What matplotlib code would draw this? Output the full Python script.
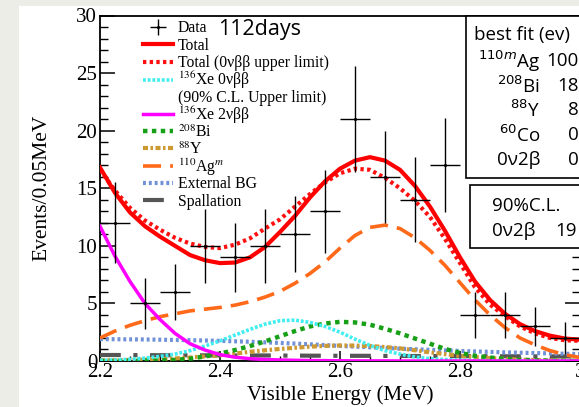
import numpy as np
import matplotlib
matplotlib.use("Agg")
import matplotlib.pyplot as plt
from matplotlib.patches import Rectangle
from matplotlib.lines import Line2D
from matplotlib.legend import Legend
from matplotlib.ticker import MultipleLocator, FuncFormatter

# ---- measured spectrum (0.05 MeV bins) ----
bin_centers = [2.225, 2.275, 2.325, 2.375, 2.425, 2.475, 2.525, 2.575,
               2.625, 2.675, 2.725, 2.775, 2.825, 2.875, 2.925, 2.975]
counts = [12, 5, 6, 10, 9, 10, 11, 13, 21, 16, 14, 17, 4, 4, 3, 2]
count_err = [3.5, 2.2, 2.4, 3.2, 3.0, 3.2, 3.3, 3.6, 4.6, 4.0, 3.7, 4.1, 2.0, 2.0, 1.7, 1.4]
bin_half_width = 0.025

# ---- fitted model curves ----
energy = [2.2, 2.225, 2.25, 2.275, 2.3, 2.325, 2.35, 2.375, 2.4, 2.425, 2.45,
          2.475, 2.5, 2.525, 2.55, 2.575, 2.6, 2.625, 2.65, 2.675, 2.7, 2.725,
          2.75, 2.775, 2.8, 2.825, 2.85, 2.875, 2.9, 2.925, 2.95, 2.975, 3.0]
total = [16.8, 14.6, 12.9, 11.7, 10.8, 10.0, 9.2, 8.75, 8.5, 8.55, 9.0,
         9.9, 11.2, 12.6, 14.2, 15.6, 16.7, 17.4, 17.7, 17.4, 16.6, 15.2,
         13.4, 11.3, 9.0, 6.9, 5.3, 4.1, 3.2, 2.6, 2.2, 1.95, 1.85]
total_ul = [16.6, 14.8, 13.3, 12.2, 11.4, 10.7, 10.2, 9.9, 9.8, 10.1, 10.65,
            11.5, 12.3, 13.4, 14.5, 15.5, 16.3, 16.7, 16.6, 15.9, 15.0, 13.9,
            12.5, 10.6, 8.5, 6.4, 4.9, 3.9, 3.0, 2.4, 2.0, 1.8, 1.75]
xe136_0v = [0.05, 0.08, 0.15, 0.25, 0.4, 0.6, 0.9, 1.3, 1.75, 2.25, 2.75,
            3.2, 3.5, 3.55, 3.35, 3.0, 2.5, 1.9, 1.35, 0.9, 0.6, 0.35,
            0.2, 0.12, 0.07, 0.04, 0.02, 0.01, 0.01, 0.0, 0.0, 0.0, 0.0]
xe136_2v = [11.7, 9.1, 6.9, 5.0, 3.6, 2.4, 1.5, 0.95, 0.55, 0.33, 0.2,
            0.13, 0.09, 0.06, 0.04, 0.03, 0.02, 0.01, 0.01, 0.01, 0.0, 0.0,
            0.0, 0.0, 0.0, 0.0, 0.0, 0.0, 0.0, 0.0, 0.0, 0.0, 0.0]
bi208 = [0.0, 0.01, 0.01, 0.02, 0.05, 0.1, 0.2, 0.4, 0.65, 0.95, 1.3,
         1.7, 2.15, 2.6, 3.0, 3.25, 3.4, 3.35, 3.15, 2.8, 2.4, 1.95,
         1.5, 1.05, 0.7, 0.45, 0.3, 0.18, 0.1, 0.06, 0.03, 0.02, 0.01]
y88 = [0.05, 0.07, 0.09, 0.12, 0.16, 0.22, 0.3, 0.4, 0.5, 0.64, 0.8,
       0.93, 1.05, 1.15, 1.25, 1.31, 1.35, 1.34, 1.3, 1.21, 1.1, 0.93,
       0.75, 0.6, 0.45, 0.34, 0.25, 0.18, 0.12, 0.08, 0.05, 0.03, 0.02]
ag110m = [2.0, 2.6, 3.1, 3.5, 3.85, 4.1, 4.35, 4.5, 4.65, 4.85, 5.15,
          5.55, 6.05, 6.75, 7.6, 8.6, 9.8, 10.9, 11.6, 11.8, 11.5, 10.7,
          9.6, 8.3, 6.8, 5.3, 4.0, 2.9, 2.0, 1.4, 0.9, 0.55, 0.3]
external_bg = [1.9, 1.89, 1.88, 1.87, 1.85, 1.83, 1.81, 1.78, 1.75, 1.71, 1.67,
               1.62, 1.57, 1.51, 1.45, 1.38, 1.31, 1.25, 1.19, 1.13, 1.07, 1.02,
               0.97, 0.92, 0.87, 0.83, 0.79, 0.75, 0.72, 0.69, 0.66, 0.63, 0.6]
spallation = [0.52, 0.52, 0.51, 0.51, 0.5, 0.5, 0.5, 0.49, 0.49, 0.48, 0.48,
              0.48, 0.47, 0.47, 0.46, 0.46, 0.45, 0.45, 0.45, 0.44, 0.44, 0.43,
              0.43, 0.43, 0.42, 0.42, 0.41, 0.41, 0.41, 0.4, 0.4, 0.4, 0.39]
co60 = [0.03] * 33

# ---- best-fit table ----
fit_names = ["$^{110m}$Ag", "$^{208}$Bi", "$^{88}$Y", "$^{60}$Co", "0ν2β"]
fit_values = ["100", "18", "8", "0", "0"]
limit_name = "0ν2β"
limit_value = "19"

SERIF = ["Liberation Serif", "DejaVu Serif"]
SANS = ["Open Sans", "DejaVu Sans"]

W, H = 579, 407
fig = plt.figure(figsize=(W / 100, H / 100), dpi=100, facecolor="#edede8")
fig.patches.append(Rectangle((19 / W, 0), 1, (H - 6) / H, transform=fig.transFigure,
                             facecolor="white", edgecolor="none", zorder=-1))

AX_L, AX_R, AX_T, AX_B = 100, 580, 15.5, 361
ax = fig.add_axes([AX_L / W, (H - AX_B) / H, (AX_R - AX_L) / W, (AX_B - AX_T) / H])


def axpt(px, py):
    """pixel position -> axes fraction"""
    return (px - AX_L) / (AX_R - AX_L), (AX_B - py) / (AX_B - AX_T)


ax.set_xlim(2.2, 3.0)
ax.set_ylim(0, 30)

# components
ax.plot(energy, co60, color="#22dd77", lw=2.0, zorder=2)
h_spal, = ax.plot(energy, spallation, color="#555555", lw=3.0,
                  linestyle=(0, (5, 3, 1, 3)), zorder=3)
h_ext, = ax.plot(energy, external_bg, color="#7090d8", lw=3.0,
                 linestyle=(0, (0.7, 0.7)), zorder=3)
h_y, = ax.plot(energy, y88, color="#cc9933", lw=3.0,
               linestyle=(0, (1.2, 0.6, 0.6, 0.6)), zorder=3)
h_bi, = ax.plot(energy, bi208, color="#17a017", lw=3.2,
                linestyle=(0, (1, 1)), zorder=3)
h_ag, = ax.plot(energy, ag110m, color="#ff6a1a", lw=2.6,
                linestyle=(0, (5, 2.5)), zorder=3)
h_x0, = ax.plot(energy, xe136_0v, color="#40eef0", lw=2.6,
                linestyle=(0, (0.8, 0.5)), zorder=3)
h_x2, = ax.plot(energy, xe136_2v, color="#ff00ff", lw=2.5, zorder=3)
h_tul, = ax.plot(energy, total_ul, color="#ff1010", lw=3.0,
                 linestyle=(0, (0.8, 0.8)), zorder=4)
h_tot, = ax.plot(energy, total, color="#ff0000", lw=3.0, zorder=5)

h_data = ax.errorbar(bin_centers, counts, yerr=count_err, xerr=bin_half_width,
                     fmt=".", color="black", markersize=2.5, elinewidth=1.0,
                     capsize=0, zorder=6)

# axes styling
for sp in ax.spines.values():
    sp.set_linewidth(1.3)
ax.xaxis.set_major_locator(MultipleLocator(0.2))
ax.xaxis.set_minor_locator(MultipleLocator(0.05))
ax.yaxis.set_major_locator(MultipleLocator(5))
ax.yaxis.set_minor_locator(MultipleLocator(1))
ax.xaxis.set_major_formatter(FuncFormatter(lambda v, p: f"{v:g}"))
ax.tick_params(axis="y", which="major", direction="in", length=10.8, width=1.1,
               pad=2, labelsize=15, right=True)
ax.tick_params(axis="y", which="minor", direction="in", length=5.8, width=1.0, right=True)
ax.tick_params(axis="x", which="major", direction="in", length=7, width=1.1,
               pad=1.5, labelsize=15)
ax.tick_params(axis="x", which="minor", direction="in", length=3.6, width=1.0)
for lab in ax.get_xticklabels() + ax.get_yticklabels():
    lab.set_family(SERIF)

ax.set_xlabel("Visible Energy (MeV)", family=SERIF, fontsize=15, labelpad=2)
ax.set_ylabel("Events/0.05MeV", family=SERIF, fontsize=15.5, va="center")
ax.yaxis.set_label_coords(axpt(41.5, 0)[0], 0.5)

# legend: one entry per row, rows evenly spaced
blank = Line2D([], [], linestyle="none")
handles = [h_data, h_tot, h_tul, h_x0, blank, h_x2, h_bi, h_y, h_ag, h_ext, h_spal]
labels = ["Data", "Total", "Total (0νββ upper limit)", "$^{136}$Xe 0νββ",
          "(90% C.L. Upper limit)", "$^{136}$Xe 2νββ", "$^{208}$Bi", "$^{88}$Y",
          "$^{110}$Ag$^{m}$", "External BG", "Spallation"]
LEG_TOP, LEG_STEP = 28.5, 17.3
for i, (h, lab) in enumerate(zip(handles, labels)):
    leg = Legend(ax, [h], [lab], loc="center left",
                 bbox_to_anchor=axpt(143, LEG_TOP + i * LEG_STEP),
                 frameon=False, prop={"family": SERIF, "size": 11.3},
                 handlelength=1.9, handletextpad=0.32,
                 borderpad=0, borderaxespad=0)
    for t in leg.get_texts():
        t.set_math_fontfamily("stix")
    leg.set_zorder(7)
    ax.add_artist(leg)

ax.text(*axpt(218, 30), "112days", transform=ax.transAxes, family=SANS,
        fontsize=15.5, ha="left", va="center", zorder=8)

# best-fit box
BOX_FS = 13.5
bx0, by0 = axpt(466, 178)
bx1, by1 = axpt(640, 15.5)
ax.add_patch(Rectangle((bx0, by0), bx1 - bx0, by1 - by0, transform=ax.transAxes,
                       facecolor="white", edgecolor="black", lw=1.2,
                       clip_on=False, zorder=9))
ax.text(*axpt(474, 35), "best fit (ev)", transform=ax.transAxes, family=SANS,
        fontsize=BOX_FS, ha="left", va="center", zorder=10, clip_on=False)
row_y = [61, 86, 110, 135, 160]
for name, val, ry in zip(fit_names, fit_values, row_y):
    t = ax.text(*axpt(540, ry), name, transform=ax.transAxes, family=SANS,
                fontsize=BOX_FS, ha="right", va="center", zorder=10)
    t.set_math_fontfamily("dejavusans")
    ax.text(*axpt(579, ry), val, transform=ax.transAxes, family=SANS,
            fontsize=BOX_FS, ha="right", va="center", zorder=10)

# upper-limit box
cx0, cy0 = axpt(470, 248)
cx1, cy1 = axpt(640, 185)
ax.add_patch(Rectangle((cx0, cy0), cx1 - cx0, cy1 - cy0, transform=ax.transAxes,
                       facecolor="white", edgecolor="black", lw=1.2,
                       clip_on=False, zorder=9))
ax.text(*axpt(492, 206), "90%C.L.", transform=ax.transAxes, family=SANS,
        fontsize=BOX_FS, ha="left", va="center", zorder=10)
ax.text(*axpt(492, 231), limit_name, transform=ax.transAxes, family=SANS,
        fontsize=BOX_FS, ha="left", va="center", zorder=10)
ax.text(*axpt(577, 231), limit_value, transform=ax.transAxes, family=SANS,
        fontsize=BOX_FS, ha="right", va="center", zorder=10)

fig.savefig("out.png", dpi=100, facecolor=fig.get_facecolor())
